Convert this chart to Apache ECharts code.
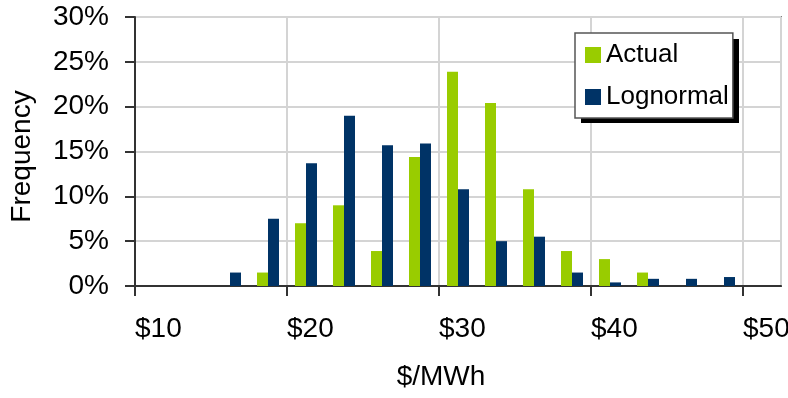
<!DOCTYPE html>
<html>
<head>
<meta charset="utf-8">
<script src="https://cdn.jsdelivr.net/npm/echarts@6/dist/echarts.min.js"></script>
<style>
  html, body { margin: 0; padding: 0; background: #ffffff; }
  #chart { width: 788px; height: 398px; }
</style>
</head>
<body>
<div id="chart"></div>
<script>
// Price bins ($/MWh, bin centres) and frequency (%) per bin
const binCenters = [16.25, 18.75, 21.25, 23.75, 26.25, 28.75, 31.25, 33.75, 36.25, 38.75, 41.25, 43.75, 46.25, 48.75];
const actualPct    = [0,   1.5, 7.0,  9.0,  3.9, 14.4, 23.9, 20.4, 10.8, 3.9, 3.0, 1.5, 0,   0  ];
const lognormalPct = [1.5, 7.5, 13.7, 19.0, 15.7, 15.9, 10.8, 5.0,  5.5,  1.5, 0.4, 0.8, 0.8, 1.0];
const seriesNames = ['Actual', 'Lognormal'];
const xTicks = { min: 10, max: 52.5, step: 10 };
const yTicks = { min: 0, max: 30, step: 5 };

const FONT = '"Liberation Sans", Arial, sans-serif';
const pairs = (vals) => binCenters.map((x, i) => [x, vals[i]]);

// legend box placement (the drop shadow sits 6px below/right of it)
const legendBox = { left: 575, top: 33, width: 158, height: 84, shadow: 6 };

const chart = echarts.init(document.getElementById('chart'), null, { renderer: 'canvas' });
chart.setOption({
  backgroundColor: '#ffffff',
  animation: false,
  grid: {
    left: 135, right: 7, top: 17, bottom: 112,
    outerBoundsMode: 'none',
    containLabel: false,
    show: true, borderColor: '#808080', borderWidth: 2, backgroundColor: 'transparent'
  },
  graphic: [{
    type: 'rect', z: 1, silent: true,
    shape: {
      x: legendBox.left + legendBox.shadow, y: legendBox.top + legendBox.shadow,
      width: legendBox.width, height: legendBox.height
    },
    style: { fill: '#000000' }
  }],
  legend: {
    z: 5,
    orient: 'vertical',
    left: legendBox.left, top: legendBox.top,
    padding: [9, 4, 8, 10],
    itemWidth: 16, itemHeight: 16, itemGap: 16,
    icon: 'rect',
    backgroundColor: '#ffffff',
    borderColor: '#555555', borderWidth: 1.5,
    textStyle: { fontFamily: FONT, fontSize: 26, color: '#000', lineHeight: 26 },
    data: seriesNames
  },
  xAxis: {
    type: 'value',
    min: xTicks.min, max: xTicks.max, interval: xTicks.step,
    name: '$/MWh',
    nameLocation: 'middle',
    nameGap: 77,
    nameTextStyle: { fontFamily: FONT, fontSize: 28, color: '#000', padding: [0, 34, 0, 0] },
    axisLine: { show: true, onZero: false, lineStyle: { color: '#333333', width: 2 } },
    axisTick: { show: true, inside: false, length: 10, lineStyle: { color: '#333333', width: 2 } },
    axisLabel: {
      fontFamily: FONT, fontSize: 28, color: '#000', margin: 29, align: 'left',
      showMaxLabel: false,
      formatter: (v) => '$' + v
    },
    splitLine: { show: true, lineStyle: { color: '#d4d4d4', width: 2 } }
  },
  yAxis: {
    type: 'value',
    min: yTicks.min, max: yTicks.max, interval: yTicks.step,
    name: 'Frequency',
    nameLocation: 'middle',
    nameGap: 99,
    nameRotate: 90,
    nameTextStyle: { fontFamily: FONT, fontSize: 28, color: '#000', padding: [0, 10, 0, 0] },
    axisLine: { show: true, lineStyle: { color: '#333333', width: 2 } },
    axisTick: { show: true, inside: false, length: 10, lineStyle: { color: '#333333', width: 2 } },
    axisLabel: { fontFamily: FONT, fontSize: 28, color: '#000', margin: 26, formatter: '{value}%' },
    splitLine: { show: true, lineStyle: { color: '#d4d4d4', width: 2 } }
  },
  series: [
    {
      name: seriesNames[0], type: 'bar',
      barWidth: 11, barGap: '0%',
      itemStyle: { color: '#99cc00' },
      data: pairs(actualPct)
    },
    {
      name: seriesNames[1], type: 'bar',
      barWidth: 11, barGap: '0%',
      itemStyle: { color: '#003366' },
      data: pairs(lognormalPct)
    }
  ]
});
</script>
</body>
</html>
